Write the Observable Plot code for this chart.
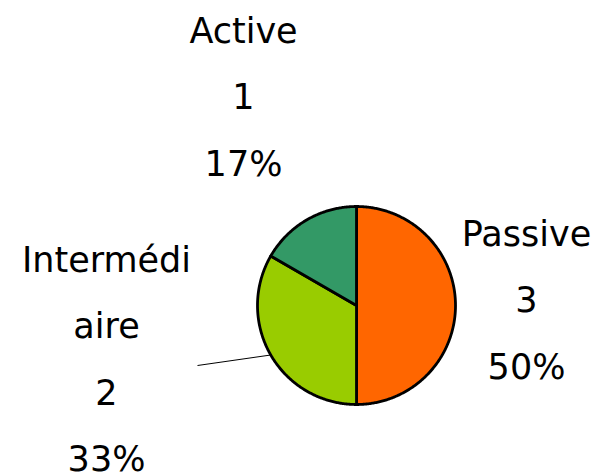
<!DOCTYPE html>
<html>
<head>
<meta charset="utf-8">
<script src="https://cdn.jsdelivr.net/npm/d3@7"></script>
<script src="https://cdn.jsdelivr.net/npm/@observablehq/plot@0.6"></script>
<style>
  html, body { margin: 0; padding: 0; background: #fff; }
  svg { display: block; }
</style>
</head>
<body>
<div id="chart"></div>
<script>
// Data
const categories = ["Passive", "Intermédiaire", "Active"];
const counts = [3, 2, 1];
const percentLabels = ["50%", "33%", "17%"];
const nameLines = [["Passive"], ["Intermédi", "aire"], ["Active"]];
const colors = ["#FF6600", "#99CC00", "#339966"];

// Layout (pixels)
const W = 593, H = 474;
const cx = 356, cy = 305, R = 99;
const labelAnchors = { "Passive": [526, 245], "Intermédiaire": [106, 271], "Active": [243, 42] };
const lineStep = 66.5;
const leaderEnd = { "Intermédiaire": [197, 365] };
const fontSize = 35;

const arcs = d3.pie().sort(null).startAngle(0).endAngle(2 * Math.PI)(counts);
const pt = (a, r) => [cx + r * Math.sin(a), cy - r * Math.cos(a)];

const slicePts = [];
arcs.forEach((a, i) => {
  const n = Math.max(2, Math.ceil((a.endAngle - a.startAngle) / 0.01));
  slicePts.push({cat: categories[i], x: cx, y: cy});
  for (let k = 0; k <= n; k++) {
    const t = a.startAngle + (a.endAngle - a.startAngle) * k / n;
    const [x, y] = pt(t, R);
    slicePts.push({cat: categories[i], x, y});
  }
  slicePts.push({cat: categories[i], x: cx, y: cy});
});

const textRows = [];
categories.forEach((c, i) => {
  const lines = [...nameLines[i], String(counts[i]), percentLabels[i]];
  const [x0, b0] = labelAnchors[c];
  lines.forEach((t, k) => textRows.push({x: x0, y: b0 + k * lineStep - 0.32 * fontSize, text: t}));
});

const leaders = [];
categories.forEach((c, i) => {
  if (leaderEnd[c]) {
    const mid = (arcs[i].startAngle + arcs[i].endAngle) / 2;
    const [x1, y1] = pt(mid, R);
    leaders.push({x1, y1, x2: leaderEnd[c][0], y2: leaderEnd[c][1]});
  }
});

const chart = Plot.plot({
  width: W, height: H,
  margin: 0,
  x: {domain: [0, W], range: [0, W], axis: null},
  y: {domain: [0, H], range: [0, H], axis: null},
  color: {domain: categories, range: colors},
  style: {fontFamily: "'DejaVu Sans', sans-serif", background: "#fff"},
  marks: [
    Plot.line(slicePts, {x: "x", y: "y", z: "cat", fill: "cat", stroke: "#000", strokeWidth: 2.8, strokeLinejoin: "round", curve: "linear"}),
    Plot.link(leaders, {x1: "x1", y1: "y1", x2: "x2", y2: "y2", stroke: "#000", strokeWidth: 1}),
    Plot.text(textRows, {x: "x", y: "y", text: "text", fontSize: fontSize, fill: "#000", textAnchor: "middle", lineAnchor: "middle"})
  ]
});
document.getElementById("chart").appendChild(chart);
</script>
</body>
</html>
